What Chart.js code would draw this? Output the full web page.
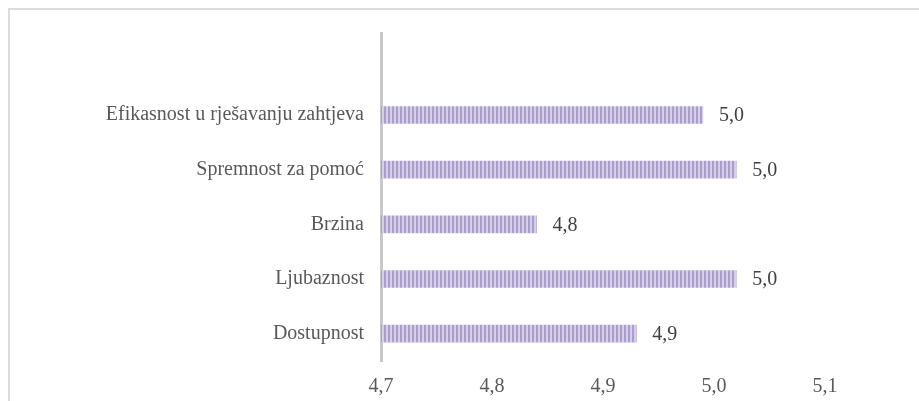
<!DOCTYPE html>
<html>
<head>
<meta charset="utf-8">
<script src="https://cdn.jsdelivr.net/npm/chart.js@4"></script>
<style>
    html, body { margin: 0; padding: 0; background: #fff; }
    #frame {
        position: absolute; left: 8px; top: 8px; width: 911px; height: 393px;
        border-top: 2px solid #dcdcdc; border-left: 2px solid #dcdcdc;
    }
    #wrap { position: absolute; left: 0; top: 0; width: 919px; height: 401px; }
</style>
</head>
<body>
<div id="frame"></div>
<div id="wrap"><canvas id="barChart" width="919" height="401"></canvas></div>
<script>
// Categories (top row is an empty slot, as in the source chart)
var categories = ['', 'Efikasnost u rješavanju zahtjeva', 'Spremnost za pomoć', 'Brzina', 'Ljubaznost', 'Dostupnost'];
var scores = [null, 4.99, 5.02, 4.84, 5.02, 4.93];
var xTicks = [4.7, 4.8, 4.9, 5.0, 5.1];

var serif = '"Liberation Serif", "Times New Roman", serif';

// Striped fill for the bars
function stripePattern() {
    var c = document.createElement('canvas');
    c.width = 4; c.height = 4;
    var p = c.getContext('2d');
    p.fillStyle = '#d6cfe8';
    p.fillRect(0, 0, 4, 4);
    p.fillStyle = '#ab9ecd';
    p.fillRect(0, 0, 2, 4);
    return p.createPattern(c, 'repeat');
}

// Value labels at the end of each bar
var valueLabels = {
    id: 'valueLabels',
    afterDatasetsDraw: function (chart) {
        var ctx = chart.ctx;
        var meta = chart.getDatasetMeta(0);
        ctx.save();
        ctx.fillStyle = '#404040';
        ctx.font = '20px ' + serif;
        ctx.textAlign = 'left';
        ctx.textBaseline = 'middle';
        meta.data.forEach(function (bar, i) {
            if (scores[i] == null) return;
            ctx.fillText(scores[i].toFixed(1).replace('.', ','), bar.x + 16, bar.y + 1);
        });
        ctx.restore();
    }
};

var ctx = document.getElementById('barChart').getContext('2d');
var chart = new Chart(ctx, {
    type: 'bar',
    data: {
        labels: categories,
        datasets: [{
            data: scores,
            base: 4.7,
            backgroundColor: stripePattern(),
            borderWidth: 0,
            barThickness: 17
        }]
    },
    options: {
        indexAxis: 'y',
        responsive: false,
        animation: false,
        layout: { padding: { top: 33, right: 94, bottom: 0, left: 0 } },
        plugins: {
            legend: { display: false },
            tooltip: { enabled: false }
        },
        scales: {
            x: {
                min: 4.7,
                max: 5.1,
                afterBuildTicks: function (s) {
                    s.ticks = xTicks.map(function (v) { return { value: v }; });
                },
                afterFit: function (s) { s.height = 40; },
                grid: { display: false, drawTicks: false },
                border: { display: false },
                ticks: {
                    padding: 14,
                    color: '#595959',
                    font: { family: serif, size: 20 },
                    callback: function (v) { return Number(v).toFixed(1).replace('.', ','); }
                }
            },
            y: {
                afterFit: function (s) { s.width = 381; },
                grid: { display: false, drawTicks: false },
                border: { display: true, color: '#c8c8c8', width: 3 },
                ticks: {
                    padding: 17,
                    color: '#595959',
                    font: { family: serif, size: 20 }
                }
            }
        }
    },
    plugins: [valueLabels]
});
</script>
</body>
</html>
